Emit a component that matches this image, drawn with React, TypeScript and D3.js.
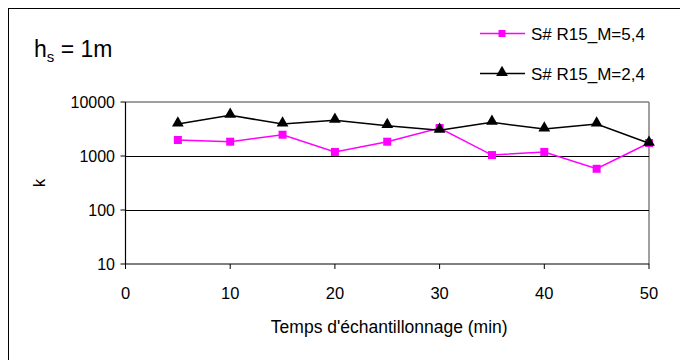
import React from "react";
import * as d3 from "d3";

const times = [5, 10, 15, 20, 25, 30, 35, 40, 45, 50];
const seriesM54 = [1980, 1840, 2480, 1190, 1840, 3300, 1040, 1190, 580, 1740];
const seriesM24 = [3910, 5660, 3910, 4580, 3650, 2990, 4200, 3160, 3910, 1720];
const xTicks = [0, 10, 20, 30, 40, 50];
const yTicks = [10, 100, 1000, 10000];
const legendLabels = ["S# R15_M=5,4", "S# R15_M=2,4"];
const xTitle = "Temps d'échantillonnage (min)";
const yTitle = "k";

const W = 680;
const H = 360;
const FONT = "Liberation Sans, Arial, sans-serif";

export default function App() {
  const left = 125.5;
  const right = 649;
  const top = 102;
  const bottom = 264;
  const x = d3.scaleLinear().domain([0, 50]).range([left, right]);
  const y = d3.scaleLog().domain([10, 10000]).range([bottom, top]);

  const line = d3
    .line<number>()
    .x((_, i) => x(times[i]))
    .y((d) => y(d));

  const tri = d3.symbol().type(d3.symbolTriangle).size(60)();

  return (
    <svg
      width={W}
      height={H}
      style={{ position: "absolute", left: 0, top: 0, fontFamily: FONT }}
    >
      <rect x={0} y={0} width={W} height={H} fill="#fff" />
      <rect x={8.5} y={8.5} width={W + 10} height={H + 10} fill="none" stroke="#000" strokeWidth={1} />

      {/* title */}
      <text x={34} y={57} fontSize={23} fill="#000">
        h<tspan fontSize={15} dy={5}>s</tspan>
        <tspan dy={-5}> = 1m</tspan>
      </text>

      {/* legend */}
      <g>
        <line x1={480} x2={525} y1={33.5} y2={33.5} stroke="#FF00FF" strokeWidth={1.5} />
        <rect x={498.5} y={30} width={7} height={7} fill="#FF00FF" />
        <text x={531} y={39.5} fontSize={17} fill="#000">{legendLabels[0]}</text>
        <line x1={480} x2={525} y1={73.5} y2={73.5} stroke="#000" strokeWidth={1.5} />
        <path d={tri ?? ""} transform={`translate(502,72.5)`} fill="#000" />
        <text x={531} y={79.5} fontSize={17} fill="#000">{legendLabels[1]}</text>
      </g>

      {/* plot frame top/right in grey */}
      <line x1={left} x2={right} y1={top} y2={top} stroke="#808080" strokeWidth={1.5} />
      <line x1={right} x2={right} y1={top} y2={bottom} stroke="#808080" strokeWidth={1.5} />

      {/* gridlines */}
      {yTicks.slice(1, 3).map((t) => (
        <line key={t} x1={left} x2={right} y1={Math.round(y(t)) + 0.5} y2={Math.round(y(t)) + 0.5} stroke="#000" strokeWidth={1} />
      ))}

      {/* axes */}
      <line x1={left} x2={left} y1={top} y2={bottom} stroke="#000" strokeWidth={1.2} />
      <line x1={left} x2={right} y1={bottom} y2={bottom} stroke="#000" strokeWidth={1.2} />
      {yTicks.map((t) => (
        <g key={t}>
          <line x1={left - 5} x2={left} y1={y(t)} y2={y(t)} stroke="#000" />
          <text x={115} y={y(t) + 5.5} textAnchor="end" fontSize={16} fill="#000">{t}</text>
        </g>
      ))}
      {xTicks.map((t) => (
        <g key={t}>
          <line x1={x(t)} x2={x(t)} y1={bottom} y2={bottom + 5} stroke="#000" />
          <text x={x(t)} y={299} textAnchor="middle" fontSize={16.5} fill="#000">{t}</text>
        </g>
      ))}
      <text x={(left + right) / 2 + 2} y={333} textAnchor="middle" fontSize={17.5} fill="#000">{xTitle}</text>
      <text transform={`translate(45,183) rotate(-90)`} textAnchor="middle" fontSize={17} fill="#000">{yTitle}</text>

      {/* series */}
      <path d={line(seriesM54) ?? ""} fill="none" stroke="#FF00FF" strokeWidth={1.5} />
      {seriesM54.map((v, i) => (
        <rect key={i} x={x(times[i]) - 4} y={y(v) - 4} width={8} height={8} fill="#FF00FF" />
      ))}
      <path d={line(seriesM24) ?? ""} fill="none" stroke="#000" strokeWidth={1.5} />
      {seriesM24.map((v, i) => (
        <path key={i} d={tri ?? ""} transform={`translate(${x(times[i])},${y(v) - 1})`} fill="#000" />
      ))}
    </svg>
  );
}
